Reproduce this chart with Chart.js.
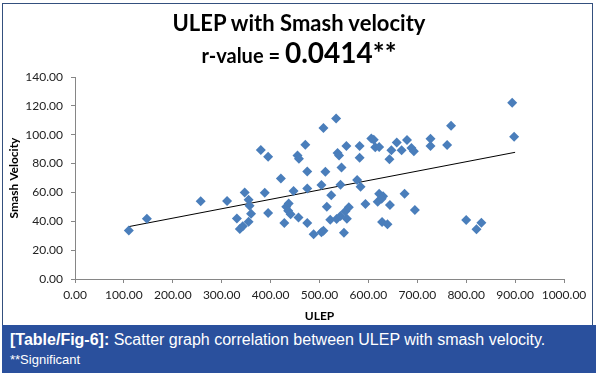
<!DOCTYPE html>
<html>
<head>
<meta charset="utf-8">
<script src="https://cdn.jsdelivr.net/npm/chart.js@4.4.0/dist/chart.umd.min.js"></script>
<style>
  body { margin: 0; background: #fff; }
  #fig { position: relative; width: 598px; height: 376px; overflow: hidden; }
  #frame { position: absolute; left: 2px; top: 3px; width: 591px; height: 322px; border: 1px solid #34507e; border-bottom: none; box-sizing: border-box; }
  #plot { position: absolute; left: 0; top: 0; }
  .ttl { position: absolute; left: 0; width: 598px; text-align: center; font-family: Lato, sans-serif; font-weight: bold; color: #000; white-space: nowrap; }
  #t1 { top: 9px; font-size: 22px; }
  #t2 { top: 35px; font-size: 20px; }
  #t2 span { font-size: 28px; }
  #caption { position: absolute; left: 2px; top: 325px; width: 594px; height: 48px; background: #2a509d; color: #fff; font-family: "Liberation Sans", Arial, sans-serif; }
  #cap1 { position: absolute; left: 8px; top: 6px; font-size: 16px; white-space: nowrap; }
  #cap2 { position: absolute; left: 8px; top: 27px; font-size: 13px; white-space: nowrap; }
</style>
</head>
<body>
<div id="fig">
  <div id="frame"></div>
  <canvas id="plot" width="598" height="325"></canvas>
  <div class="ttl" id="t1">ULEP with Smash velocity</div>
  <div class="ttl" id="t2">r-value = <span>0.0414**</span></div>
  <div id="caption">
    <div id="cap1"><b>[Table/Fig-6]:</b> Scatter graph correlation between ULEP with smash velocity.</div>
    <div id="cap2">**Significant</div>
  </div>
</div>
<script>
// ULEP values (x)
const ulep = [110, 147, 257, 311, 331, 337, 343, 347, 355, 357, 360, 355, 380, 395, 388, 395,
  421, 428, 447, 432, 437, 436, 441, 457, 455, 458, 471, 475, 475, 475, 488, 504, 508, 508,
  534, 512, 504, 524, 515, 522, 535, 543, 537, 540, 545, 543, 555, 550, 553, 560, 556, 577,
  582, 582, 584, 594, 606, 611, 614, 622, 643, 647, 658, 668, 679, 688, 693, 622, 630, 619,
  627, 644, 628, 639, 674, 695, 727, 727, 761, 769, 800, 821, 831, 894, 898];

// smash velocity (y)
const smash = [33.7, 41.8, 53.8, 54, 42, 34.6, 36.5, 60, 55, 50.7, 45.3, 39.7, 89.4, 84.8, 59.7, 45.8,
  69.6, 38.8, 61, 50.1, 52.4, 47.3, 44.8, 42.6, 85.6, 83.4, 93, 74.5, 62.8, 38.8, 31, 32.4, 33.4, 104.7,
  111.3, 74.4, 65.1, 58, 50.1, 41, 41.5, 43.7, 87.3, 85.6, 77.3, 65.4, 92.2, 32.1, 47, 49.7, 41.8, 68.6,
  92.2, 84, 64, 52, 97.3, 96.5, 91.3, 91.5, 83, 89.2, 94.6, 89.2, 96.3, 90.8, 88.6, 59, 57.3, 53.5,
  55.6, 51.3, 39.5, 38, 59, 47.8, 97.2, 92.2, 92.9, 106.2, 40.9, 34.4, 39, 122.2, 98.6];

// linear trend line ends, as drawn in the picture
const trendX = [110, 900];
const trendY = [36.3, 87.8];

const xTicks = [0, 100, 200, 300, 400, 500, 600, 700, 800, 900, 1000];
const yTicks = [0, 20, 40, 60, 80, 100, 120, 140];

const points = ulep.map((v, i) => ({x: v, y: smash[i]}));
const trend = trendX.map((v, i) => ({x: v, y: trendY[i]}));

const axisCol = '#868686';
const tickFont = {family: 'Lato', size: 12};

new Chart(document.getElementById('plot'), {
  type: 'scatter',
  data: {
    datasets: [
      {
        label: 'Smash Velocity',
        data: points,
        pointStyle: 'rectRot',
        pointRadius: 5,
        backgroundColor: '#4a7ebb',
        borderWidth: 0
      },
      {
        label: 'Linear',
        type: 'line',
        data: trend,
        borderColor: '#000',
        borderWidth: 1,
        pointRadius: 0,
        fill: false
      }
    ]
  },
  options: {
    responsive: false,
    animation: false,
    layout: { padding: { top: 77, right: 34, left: 0, bottom: 0 } },
    plugins: { legend: { display: false }, tooltip: { enabled: false } },
    scales: {
      x: {
        type: 'linear',
        min: xTicks[0],
        max: xTicks[xTicks.length - 1],
        afterBuildTicks: s => { s.ticks = xTicks.map(v => ({value: v})); },
        afterFit: s => { s.height = 46; },
        ticks: { callback: v => v.toFixed(2), color: '#222', font: tickFont, padding: 5, maxRotation: 0 },
        grid: { drawOnChartArea: false, tickLength: 4, color: axisCol },
        border: { color: axisCol },
        title: { display: true, text: 'ULEP', color: '#000', font: {family: 'Lato', size: 12, weight: 'bold'}, padding: {top: 2, bottom: 2} }
      },
      y: {
        type: 'linear',
        min: yTicks[0],
        max: yTicks[yTicks.length - 1],
        afterBuildTicks: s => { s.ticks = yTicks.map(v => ({value: v})); },
        afterFit: s => { s.width = 75; },
        ticks: { callback: v => v.toFixed(2), color: '#222', font: tickFont, padding: 8 },
        grid: { drawOnChartArea: false, tickLength: 4, color: axisCol },
        border: { color: axisCol },
        title: { display: true, text: 'Smash Velocity', color: '#000', font: {family: 'Lato', size: 12, weight: 'bold'}, padding: {top: 7, bottom: 0} }
      }
    }
  }
});
</script>
</body>
</html>
